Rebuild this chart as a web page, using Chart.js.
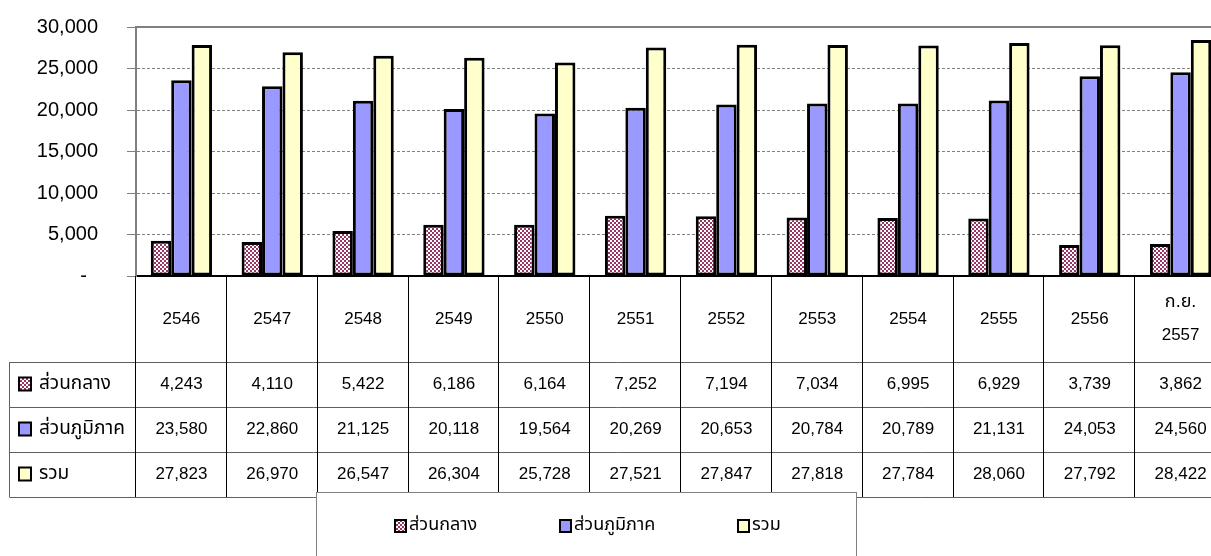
<!DOCTYPE html>
<html>
<head>
<meta charset="utf-8">
<script src="https://cdn.jsdelivr.net/npm/chart.js@4.4.1/dist/chart.umd.min.js"></script>
<style>
  html, body { margin: 0; padding: 0; background: #fff; overflow: hidden; }
  #wrap { width: 1230px; height: 556px; }
</style>
</head>
<body>
<div id="wrap"><canvas id="chart" width="1230" height="556"></canvas></div>
<script>
// data
const categories = ['2546', '2547', '2548', '2549', '2550', '2551', '2552', '2553', '2554', '2555', '2556', ['ก.ย.', '2557']];
const seriesNames = ['ส่วนกลาง', 'ส่วนภูมิภาค', 'รวม'];
const centralValues = [4243, 4110, 5422, 6186, 6164, 7252, 7194, 7034, 6995, 6929, 3739, 3862];
const regionalValues = [23580, 22860, 21125, 20118, 19564, 20269, 20653, 20784, 20789, 21131, 24053, 24560];
const totalValues = [27823, 26970, 26547, 26304, 25728, 27521, 27847, 27818, 27784, 28060, 27792, 28422];
const yMin = 0, yMax = 30000, yStep = 5000;

const FONT = 'Arial, "Liberation Sans", "Noto Sans Thai", Tahoma, sans-serif';

// small checkerboard fill like the excel pattern
function checker() {
  const c = document.createElement('canvas');
  c.width = 4; c.height = 4;
  const g = c.getContext('2d');
  g.fillStyle = '#ffffff';
  g.fillRect(0, 0, 4, 4);
  g.fillStyle = '#993366';
  g.fillRect(0, 0, 2, 2);
  g.fillRect(2, 2, 2, 2);
  return g.createPattern(c, 'repeat');
}
const pat = checker();
const fills = [pat, '#9999FF', '#FFFFCC'];
const rows = [centralValues, regionalValues, totalValues];

function fmt(v) { return v.toLocaleString('en-US'); }

function marker(ctx, x, y, w, h, fill) {
  ctx.fillStyle = fill;
  ctx.fillRect(x, y, w, h);
  ctx.lineWidth = 2;
  ctx.strokeStyle = '#000';
  ctx.strokeRect(x, y, w, h);
  ctx.fillStyle = '#000';
}

// data table + legend box under the plot
const dataTable = {
  id: 'dataTable',
  afterDraw(chart) {
    const ctx = chart.ctx;
    const area = chart.chartArea;
    const xs = chart.scales.x;
    const n = categories.length;
    const cw = (area.right - area.left) / n;
    const headH = 86, rowH = 45, leftX = 9.5;
    const rowTop = area.bottom + headH;
    const tableBottom = rowTop + rowH * rows.length;

    ctx.save();
    // plot area top border
    ctx.strokeStyle = '#808080';
    ctx.lineWidth = 2;
    ctx.beginPath();
    ctx.moveTo(area.left, area.top);
    ctx.lineTo(area.right, area.top);
    ctx.stroke();

    // horizontal row lines
    ctx.strokeStyle = '#606060';
    ctx.lineWidth = 1;
    for (let r = 0; r <= rows.length; r++) {
      const y = Math.round(rowTop + r * rowH) + 0.5;
      ctx.beginPath();
      ctx.moveTo(leftX, y);
      ctx.lineTo(area.right, y);
      ctx.stroke();
    }
    ctx.beginPath();
    ctx.moveTo(leftX, rowTop);
    ctx.lineTo(leftX, tableBottom);
    ctx.stroke();

    // vertical category lines
    ctx.strokeStyle = '#000';
    for (let k = 0; k <= n; k++) {
      const x = Math.round(area.left + k * cw) - 0.5;
      ctx.beginPath();
      ctx.moveTo(x, area.bottom);
      ctx.lineTo(x, tableBottom);
      ctx.stroke();
    }

    // category labels
    ctx.fillStyle = '#000';
    ctx.textAlign = 'center';
    ctx.textBaseline = 'middle';
    ctx.font = '17px ' + FONT;
    categories.forEach((lab, i) => {
      const x = xs.getPixelForValue(i);
      const yc = area.bottom + headH / 2;
      if (Array.isArray(lab)) {
        ctx.font = '18px ' + FONT;
        ctx.fillText(lab[0], x, yc - 17);
        ctx.font = '17px ' + FONT;
        ctx.fillText(lab[1], x, yc + 16);
      } else {
        ctx.fillText(lab, x, yc);
      }
    });

    // values
    rows.forEach((vals, r) => {
      const yc = rowTop + r * rowH + rowH / 2;
      ctx.fillStyle = '#000';
      ctx.font = '17px ' + FONT;
      vals.forEach((v, i) => {
        ctx.fillText(fmt(v), xs.getPixelForValue(i), yc);
      });
      marker(ctx, 19, yc - 7, 12, 13, fills[r]);
      ctx.textAlign = 'left';
      ctx.font = '19px ' + FONT;
      ctx.fillText(seriesNames[r], 39, yc - 1);
      ctx.textAlign = 'center';
    });

    // legend box
    const lx = 316.5, ly = 492.5, lw = 540, lh = 80;
    ctx.fillStyle = '#fff';
    ctx.fillRect(lx, ly, lw, lh);
    ctx.strokeStyle = '#808080';
    ctx.lineWidth = 1;
    ctx.strokeRect(lx, ly, lw, lh);
    const items = [395, 560, 738];
    ctx.font = '18px ' + FONT;
    ctx.textAlign = 'left';
    items.forEach((x, i) => {
      marker(ctx, x, 520, 11, 12, fills[i]);
      ctx.fillText(seriesNames[i], x + 14, 525);
    });
    ctx.restore();
  }
};

new Chart(document.getElementById('chart'), {
  type: 'bar',
  data: {
    labels: categories,
    datasets: seriesNames.map((name, i) => ({
      label: name,
      data: rows[i],
      backgroundColor: fills[i],
      borderColor: '#000',
      borderWidth: 3,
      borderSkipped: false,
      categoryPercentage: 0.675,
      barPercentage: 1.0
    }))
  },
  options: {
    responsive: false,
    animation: false,
    devicePixelRatio: 1,
    layout: { padding: { top: 27, right: 4, bottom: 280, left: 0 } },
    plugins: { legend: { display: false }, tooltip: { enabled: false } },
    scales: {
      x: {
        ticks: { display: false },
        grid: { display: false },
        border: { color: '#000', width: 2 },
        afterFit: s => { s.height = 0; }
      },
      y: {
        min: yMin,
        max: yMax,
        ticks: {
          stepSize: yStep,
          padding: 29,
          color: '#000',
          font: { family: FONT, size: 20 },
          callback: v => (v === 0 ? '-  ' : fmt(v))
        },
        grid: { color: '#808080', tickLength: 9, tickColor: '#808080', tickBorderDash: [] },
        border: { color: '#808080', width: 2, dash: [3, 2] },
        afterFit: s => { s.width = 136; s.paddingTop = 0; s.paddingBottom = 0; }
      }
    }
  },
  plugins: [dataTable]
});
</script>
</body>
</html>
